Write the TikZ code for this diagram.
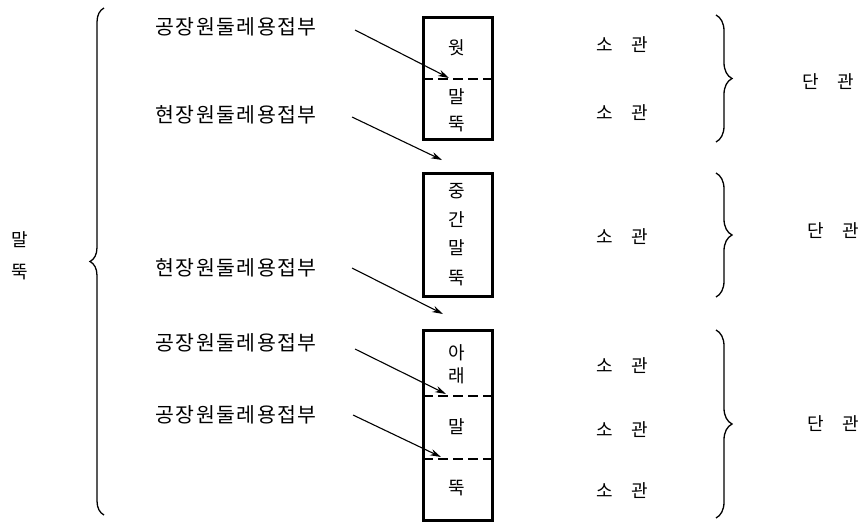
\documentclass[tikz,border=0pt]{standalone}
\usepackage{fontspec}
\newfontfamily\kr{Noto Sans CJK KR}
\newfontfamily\krs[LetterSpace=7]{Noto Sans CJK KR}
\usetikzlibrary{arrows.meta,decorations.pathreplacing}
\begin{document}
\begin{tikzpicture}[x=1pt,y=-1pt,
  lbl/.style={font=\krs\fontsize{20.5}{20.5}\selectfont, inner sep=0pt},
  sm/.style={font=\kr\fontsize{18}{18}\selectfont, inner sep=0pt},
  bx/.style={draw, line width=3pt, inner sep=0pt},
  joint/.style={line width=2.4pt, dash pattern=on 10pt off 5pt},
  arr/.style={line width=1.1pt, -{Stealth[length=11pt,width=6.5pt]}},
  brc/.style={decorate, line width=1.3pt, decoration={brace, amplitude=#1}}]
\useasboundingbox (0,0) rectangle (865,523);
% boxes
\node[bx, minimum width=69pt, minimum height=122pt] (b1) at (457.5,78) {};
\node[bx, minimum width=69pt, minimum height=123pt] (b2) at (457.5,234.5) {};
\node[bx, minimum width=69pt, minimum height=190pt] (b3) at (457.5,425) {};
% joints
\coordinate (j1l) at (423,79); \coordinate (j1r) at (492,79);
\coordinate (j2l) at (423,396); \coordinate (j2r) at (492,396);
\coordinate (j3l) at (423,459); \coordinate (j3r) at (492,459);
\draw[joint] (j1l) -- (j1r);
\draw[joint] (j2l) -- (j2r);
\draw[joint] (j3l) -- (j3r);
% box texts
\node[sm] (t1) at (457,48) {웟};
\node[sm] (t2) at (457,97) {말};
\node[sm] (t3) at (457,124) {뚝};
\node[sm] (t4) at (457,191) {중};
\node[sm] (t5) at (457,220) {간};
\node[sm] (t6) at (457,248) {말};
\node[sm] (t7) at (457,278) {뚝};
\node[sm] (t8) at (457,353) {아};
\node[sm] (t9) at (457,376) {래};
\node[sm] (t10) at (457,427) {말};
\node[sm] (t11) at (457,488) {뚝};
% left labels
\node[lbl] (l1) at (236,27) {공장원둘레용접부};
\node[lbl] (l2) at (236,115) {현장원둘레용접부};
\node[lbl] (l3) at (236,268) {현장원둘레용접부};
\node[lbl] (l4) at (236,343) {공장원둘레용접부};
\node[lbl] (l5) at (236,415) {공장원둘레용접부};
% arrows
\coordinate (s1) at (355,30); \coordinate (e1) at (449,78);
\coordinate (s2) at (352,117); \coordinate (e2) at (442,160);
\coordinate (s3) at (352,268); \coordinate (e3) at (443,314);
\coordinate (s4) at (355,349); \coordinate (e4) at (446,394);
\coordinate (s5) at (353,415); \coordinate (e5) at (441,457);
\draw[arr] (s1) -- (e1);
\draw[arr] (s2) -- (e2);
\draw[arr] (s3) -- (e3);
\draw[arr] (s4) -- (e4);
\draw[arr] (s5) -- (e5);
% right labels
\node[sm] (r1) at (622,45) {소　관};
\node[sm] (r2) at (622,113) {소　관};
\node[sm] (r3) at (622,237) {소　관};
\node[sm] (r4) at (622,366) {소　관};
\node[sm] (r5) at (622,430) {소　관};
\node[sm] (r6) at (622,491) {소　관};
\node[sm] (d1) at (828,82) {단　관};
\node[sm] (d2) at (833,231) {단　관};
\node[sm] (d3) at (833,424) {단　관};
% braces
\coordinate (rb1t) at (716,15); \coordinate (rb1b) at (716,142);
\coordinate (rb2t) at (716,173); \coordinate (rb2b) at (716,297);
\coordinate (rb3t) at (716,330); \coordinate (rb3b) at (716,518);
\draw[brc=16pt] (rb1t) -- (rb1b);
\draw[brc=16pt] (rb2t) -- (rb2b);
\draw[brc=16pt] (rb3t) -- (rb3b);
\coordinate (lbt) at (104,8); \coordinate (lbb) at (104,515);
\draw[brc=14pt] (lbb) -- (lbt);
\node[sm] (m1) at (20,240) {말};
\node[sm] (m2) at (20,272) {뚝};
\end{tikzpicture}
\end{document}
